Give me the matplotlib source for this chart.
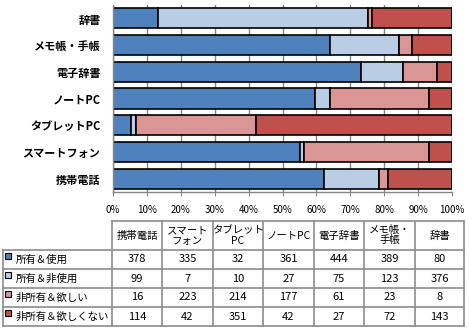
import matplotlib.pyplot as plt
import numpy as np

plt.rcParams['font.family'] = ['Noto Sans CJK JP', 'DejaVu Sans']

# items (bottom to top on the chart, left to right in the table)
items = ['携帯電話', 'スマートフォン', 'タブレットPC', 'ノートPC', '電子辞書', 'メモ帳・手帳', '辞書']
col_heads = ['携帯電話', 'スマート\nフォン', 'タブレット\nPC', 'ノートPC', '電子辞書', 'メモ帳・\n手帳', '辞書']

series = ['所有＆使用', '所有＆非使用', '非所有＆欲しい', '非所有＆欲しくない']
own_use = [378, 335, 32, 361, 444, 389, 80]
own_unused = [99, 7, 10, 27, 75, 123, 376]
want = [16, 223, 214, 177, 61, 23, 8]
dont_want = [114, 42, 351, 42, 27, 72, 143]
colors = ['#4F81BD', '#B9CDE5', '#D99694', '#C0504D']

counts = np.array([own_use, own_unused, want, dont_want], dtype=float)
shares = counts / counts.sum(axis=0)

W, H = 469, 331
fig = plt.figure(figsize=(W / 100, H / 100), dpi=100)

# stacked 100% bars
ax = fig.add_axes([113 / W, 1 - 192 / H, (452 - 113) / W, (192 - 5) / H])
y = np.arange(len(items))
left = np.zeros(len(items))
for share, c in zip(shares, colors):
    ax.barh(y, share, left=left, height=0.75, color=c, edgecolor='black', linewidth=1.2)
    left += share

ax.set_xlim(0, 1)
ax.set_ylim(-0.5, len(items) - 0.5)
ax.set_xticks(np.linspace(0, 1, 11))
ax.set_xticklabels(['{}%'.format(int(round(v * 100))) for v in np.linspace(0, 1, 11)])
ax.set_yticks(y)
ax.set_yticklabels(items)
for lab in ax.get_yticklabels():
    lab.set_fontsize(8)
    lab.set_fontweight('bold')
ax.tick_params(axis='y', length=0, pad=9)
ax.tick_params(axis='x', length=3, color='#868686', pad=6, labelsize=7)
ax.grid(axis='x', color='#868686', linewidth=1)
ax.set_axisbelow(True)
for side in ['top', 'right']:
    ax.spines[side].set_visible(False)
for side in ['left', 'bottom']:
    ax.spines[side].set_color('#868686')
    ax.spines[side].set_linewidth(1)

# data table underneath, drawn in pixel coordinates
tab = fig.add_axes([0, 0, 1, 1])
tab.set_xlim(0, W)
tab.set_ylim(H, 0)
tab.axis('off')

col_x = [112, 162, 213, 263, 314, 364, 415, 464]
row_y = [221, 250, 269, 288, 307, 326]
lc = '#8c8c8c'

tab.plot([col_x[0], col_x[-1]], [row_y[0], row_y[0]], color=lc, lw=1.2)
for yy in row_y[1:]:
    tab.plot([3, col_x[-1]], [yy, yy], color=lc, lw=1.2)
for xx in col_x:
    tab.plot([xx, xx], [row_y[0], row_y[-1]], color=lc, lw=1.2)
tab.plot([3, 3], [row_y[1], row_y[-1]], color=lc, lw=1.2)

for j, head in enumerate(col_heads):
    cx = (col_x[j] + col_x[j + 1]) / 2
    tab.text(cx, (row_y[0] + row_y[1]) / 2, head, ha='center', va='center',
             fontsize=7.5, linespacing=1.0)

for i, name in enumerate(series):
    cy = (row_y[i + 1] + row_y[i + 2]) / 2
    tab.add_patch(plt.Rectangle((5, cy - 7), 6, 6, facecolor=colors[i],
                                edgecolor='black', linewidth=0.8))
    tab.text(16, cy, name, ha='left', va='center', fontsize=7.5)
    for j in range(len(items)):
        cx = (col_x[j] + col_x[j + 1]) / 2
        tab.text(cx, cy, '{:d}'.format(int(counts[i, j])), ha='center', va='center', fontsize=8)

fig.savefig('out.png', dpi=100)
